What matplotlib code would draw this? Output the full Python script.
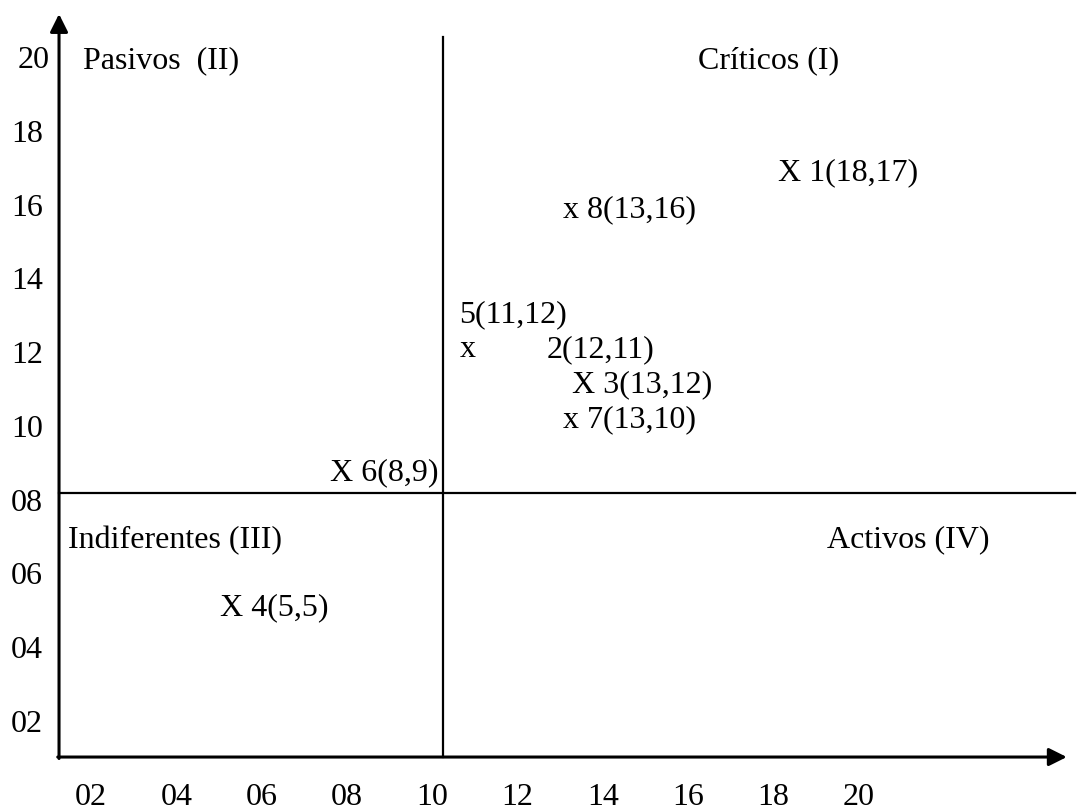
import matplotlib.pyplot as plt

plt.rcParams['font.family'] = ['Liberation Serif', 'DejaVu Serif']
FS = 23

# tick values and their printed labels
x_ticks = [2, 4, 6, 8, 10, 12, 14, 16, 18, 20]
x_tick_labels = ['02', '04', '06', '08', '10', '12', '14', '16', '18', '20']
y_ticks = [2, 4, 6, 8, 10, 12, 14, 16, 18, 20]
y_tick_labels = ['02', '04', '06', '08', '10', '12', '14', '16', '18', '20']

# quadrant split (as drawn)
x_split = 10.25
y_split = 8.21

# quadrant names: text, x (left), y (baseline)
quad_names = ['Pasivos  (II)', 'Críticos (I)', 'Indiferentes (III)', 'Activos (IV)']
quad_x = [1.81, 16.23, 1.46, 19.26]
quad_y = [19.73, 19.73, 6.72, 6.75]

# point labels as written in the sketch
pt_labels = ['X 1(18,17)', 'x 8(13,16)', '5(11,12)', 'x', '2(12,11)',
             'X 3(13,12)', 'x 7(13,10)', 'X 6(8,9)', 'X 4(5,5)']
pt_x = [18.11, 13.07, 10.63, 10.65, 12.69, 13.28, 13.07, 7.60, 5.02]
pt_y = [16.70, 15.69, 12.84, 11.90, 11.90, 10.94, 9.99, 8.56, 4.90]

fig = plt.figure(figsize=(10.77, 8.07), dpi=100)
ax = fig.add_axes([0, 0, 1, 1])
ax.set_xlim(-0.134, 25.12)
ax.set_ylim(-0.305, 21.58)
ax.axis('off')

# axes with arrows
x0, y0 = 1.25, 1.05
arrow = dict(arrowstyle='-|>', lw=2.2, color='black', mutation_scale=27,
             shrinkA=0, shrinkB=0)
ax.annotate('', xy=(x0, 21.2), xytext=(x0, y0 - 0.04), arrowprops=arrow)
ax.annotate('', xy=(24.88, y0), xytext=(x0 - 0.03, y0), arrowprops=arrow)

# quadrant lines
ax.plot([x_split, x_split], [y0, 20.58], color='black', lw=1.6)
ax.plot([x0, 25.07], [y_split, y_split], color='black', lw=1.6)

# tick labels
for v, lab in zip(x_ticks, x_tick_labels):
    ax.text(v, -0.25, lab, fontsize=FS, ha='center', va='baseline')
for v, lab in zip(y_ticks, y_tick_labels):
    xr = 1.04 if v == 20 else 0.87
    ax.text(xr, v - 0.27, lab, fontsize=FS, ha='right', va='baseline')

for t, xx, yy in zip(quad_names, quad_x, quad_y):
    ax.text(xx, yy, t, fontsize=FS, ha='left', va='baseline')

for t, xx, yy in zip(pt_labels, pt_x, pt_y):
    ax.text(xx, yy, t, fontsize=FS, ha='left', va='baseline')

fig.savefig('out.png', dpi=100)
